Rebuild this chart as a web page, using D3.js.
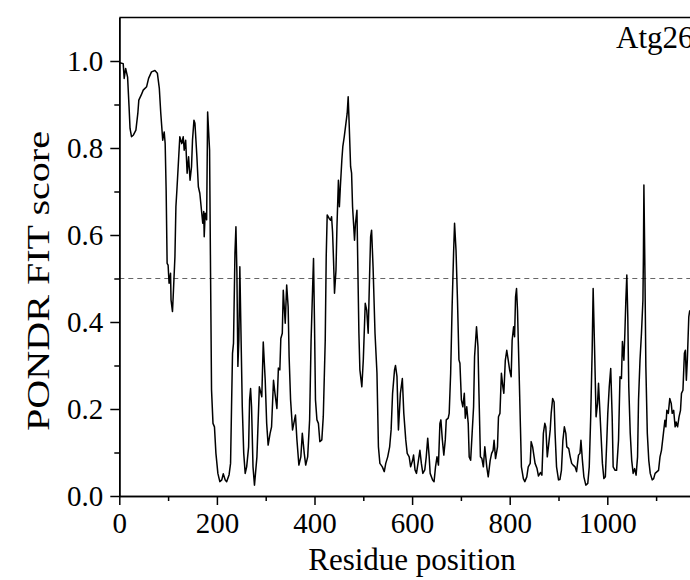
<!DOCTYPE html>
<html>
<head>
<meta charset="utf-8">
<script src="https://cdn.jsdelivr.net/npm/d3@7"></script>
<style>
    html, body { margin: 0; padding: 0; background: #fff; overflow: hidden; }
    svg { display: block; }
</style>
</head>
<body>
<script>

// Residue positions (x)
var residues = [
    1, 8, 10, 13, 17, 20, 22, 25, 29, 34, 38, 40, 45, 49, 56, 60, 66, 73, 78, 82,
    85, 89, 92, 94, 96, 98, 100, 102, 105, 106, 109, 111, 114, 116, 118, 121, 124, 128, 131, 133,
    136, 139, 142, 145, 148, 150, 153, 155, 159, 162, 165, 169, 171, 173, 174, 176, 179, 181, 185, 187,
    189, 192, 195, 198, 202, 206, 210, 213, 217, 220, 225, 228, 230, 232, 234, 237, 239, 241, 243, 245,
    247, 249, 252, 255, 258, 261, 265, 267, 269, 271, 274, 277, 282, 287, 292, 295, 299, 302, 305, 309,
    312, 316, 319, 323, 326, 329, 331, 334, 336, 340, 343, 346, 348, 351, 355, 359, 361, 364, 368, 372,
    375, 379, 382, 386, 390, 393, 396, 398, 400, 402, 405, 408, 411, 415, 418, 422, 424, 426, 430, 433,
    435, 437, 439, 441, 444, 446, 449, 451, 453, 456, 458, 461, 464, 467, 469, 471, 474, 476, 478, 480,
    482, 484, 487, 489, 491, 493, 497, 500, 504, 507, 510, 513, 515, 517, 520, 524, 528, 531, 534, 539,
    543, 546, 550, 554, 557, 560, 564, 566, 569, 572, 576, 580, 583, 587, 590, 594, 597, 601, 603, 606,
    609, 613, 616, 619, 622, 626, 629, 632, 635, 637, 642, 645, 648, 651, 654, 657, 659, 662, 665, 668,
    670, 674, 676, 679, 682, 685, 687, 690, 693, 696, 698, 701, 704, 707, 709, 712, 715, 717, 720, 723,
    726, 728, 732, 735, 737, 740, 743, 746, 749, 753, 756, 760, 763, 766, 768, 771, 775, 777, 780, 783,
    786, 788, 791, 794, 796, 800, 803, 805, 808, 810, 812, 814, 816, 819, 822, 824, 828, 831, 835, 838,
    842, 844, 847, 850, 852, 856, 859, 863, 866, 869, 872, 874, 877, 880, 883, 885, 888, 891, 893, 896,
    900, 903, 906, 909, 912, 915, 917, 921, 924, 927, 930, 934, 937, 941, 944, 946, 949, 952, 956, 960,
    963, 966, 969, 971, 974, 977, 980, 982, 984, 987, 990, 993, 996, 999, 1001, 1004, 1007, 1010, 1012, 1016,
    1019, 1023, 1026, 1029, 1031, 1034, 1036, 1038, 1040, 1042, 1044, 1047, 1050, 1053, 1056, 1059, 1062, 1064, 1067, 1070,
    1073, 1074, 1075, 1077, 1079, 1082, 1085, 1088, 1092, 1095, 1098, 1102, 1105, 1108, 1111, 1115, 1118, 1120, 1122, 1125,
    1128, 1131, 1133, 1136, 1139, 1141, 1144, 1147, 1150, 1152, 1155, 1158, 1160, 1162, 1164, 1167, 1169
];

// PONDR FIT score at each residue above
var scores = [
    0.996, 0.994, 0.960, 0.983, 0.963, 0.895, 0.845, 0.826, 0.830, 0.841, 0.880, 0.910, 0.922, 0.933, 0.941, 0.960, 0.975, 0.978, 0.972, 0.937,
    0.880, 0.818, 0.837, 0.810, 0.703, 0.535, 0.531, 0.489, 0.512, 0.451, 0.424, 0.473, 0.550, 0.665, 0.703, 0.764, 0.826, 0.810, 0.826, 0.795,
    0.818, 0.742, 0.780, 0.726, 0.757, 0.818, 0.864, 0.857, 0.780, 0.711, 0.696, 0.650, 0.627, 0.654, 0.596, 0.650, 0.635, 0.883, 0.795, 0.512,
    0.244, 0.167, 0.159, 0.098, 0.052, 0.033, 0.037, 0.051, 0.037, 0.033, 0.049, 0.075, 0.205, 0.328, 0.351, 0.558, 0.619, 0.512, 0.298, 0.359,
    0.527, 0.397, 0.205, 0.098, 0.052, 0.067, 0.113, 0.221, 0.247, 0.205, 0.067, 0.025, 0.090, 0.251, 0.228, 0.354, 0.266, 0.167, 0.117, 0.144,
    0.159, 0.266, 0.236, 0.201, 0.294, 0.290, 0.362, 0.374, 0.473, 0.397, 0.485, 0.435, 0.320, 0.221, 0.152, 0.175, 0.186, 0.129, 0.071, 0.090,
    0.144, 0.098, 0.071, 0.090, 0.175, 0.358, 0.473, 0.546, 0.397, 0.221, 0.175, 0.167, 0.125, 0.129, 0.183, 0.358, 0.550, 0.646, 0.638, 0.634,
    0.642, 0.607, 0.542, 0.466, 0.519, 0.619, 0.726, 0.665, 0.711, 0.772, 0.803, 0.826, 0.853, 0.880, 0.918, 0.857, 0.757, 0.742, 0.665, 0.627,
    0.588, 0.627, 0.657, 0.512, 0.374, 0.290, 0.251, 0.313, 0.443, 0.427, 0.374, 0.512, 0.596, 0.611, 0.527, 0.374, 0.282, 0.113, 0.075, 0.067,
    0.056, 0.075, 0.090, 0.113, 0.152, 0.236, 0.290, 0.300, 0.275, 0.152, 0.236, 0.270, 0.190, 0.129, 0.098, 0.090, 0.067, 0.082, 0.094, 0.060,
    0.052, 0.082, 0.105, 0.075, 0.052, 0.060, 0.090, 0.133, 0.090, 0.052, 0.037, 0.033, 0.067, 0.090, 0.071, 0.167, 0.175, 0.129, 0.094, 0.129,
    0.175, 0.179, 0.190, 0.282, 0.435, 0.558, 0.627, 0.565, 0.450, 0.313, 0.305, 0.221, 0.205, 0.236, 0.179, 0.205, 0.167, 0.090, 0.082, 0.144,
    0.205, 0.320, 0.389, 0.343, 0.236, 0.090, 0.086, 0.067, 0.113, 0.067, 0.044, 0.082, 0.098, 0.105, 0.128, 0.086, 0.113, 0.182, 0.190, 0.282,
    0.251, 0.236, 0.312, 0.335, 0.320, 0.289, 0.274, 0.358, 0.389, 0.366, 0.458, 0.477, 0.427, 0.297, 0.159, 0.067, 0.040, 0.033, 0.044, 0.067,
    0.075, 0.125, 0.113, 0.090, 0.075, 0.063, 0.046, 0.054, 0.048, 0.144, 0.167, 0.159, 0.090, 0.120, 0.152, 0.190, 0.224, 0.216, 0.144, 0.067,
    0.037, 0.038, 0.059, 0.128, 0.159, 0.144, 0.113, 0.109, 0.090, 0.075, 0.071, 0.067, 0.056, 0.094, 0.098, 0.128, 0.082, 0.044, 0.025, 0.029,
    0.067, 0.182, 0.335, 0.477, 0.335, 0.182, 0.213, 0.259, 0.213, 0.144, 0.075, 0.040, 0.044, 0.128, 0.190, 0.251, 0.293, 0.182, 0.067, 0.059,
    0.059, 0.128, 0.274, 0.270, 0.355, 0.312, 0.374, 0.450, 0.508, 0.412, 0.251, 0.144, 0.082, 0.052, 0.063, 0.048, 0.090, 0.221, 0.312, 0.374,
    0.450, 0.550, 0.715, 0.527, 0.297, 0.144, 0.082, 0.052, 0.037, 0.040, 0.052, 0.056, 0.059, 0.090, 0.105, 0.144, 0.174, 0.159, 0.197, 0.190,
    0.224, 0.213, 0.190, 0.197, 0.159, 0.170, 0.159, 0.182, 0.197, 0.236, 0.243, 0.328, 0.335, 0.266, 0.312, 0.412, 0.427
];

// Tick values (1200 sits just past the window edge, unlabelled)
var xMajorTicks = [0, 200, 400, 600, 800, 1000];
var xMinorTicks = [100, 300, 500, 700, 900, 1100];
var yMajorTicks = [0, 0.2, 0.4, 0.6, 0.8, 1.0];
var yMinorTicks = [0.1, 0.3, 0.5, 0.7, 0.9];

// Disorder threshold
var threshold = 0.5;

var xDomain = [0, 1200],
    yDomain = [0, 1.1];

var width = 690,
    height = 580,
    // plot runs past the right edge of the window, as in the original
    margin = {top: 17.5, left: 119.3},
    plotWidth = 585.6,
    plotHeight = 478.5,
    fontFamily = '"Liberation Serif", "Times New Roman", Times, serif';

var points = residues.map(function(r, i) { return {x: r, y: scores[i]}; });

var svg = d3.select('body')
    .append('svg')
    .attr('width', width)
    .attr('height', height)
    ;

var g = svg.append('g')
    .attr('transform', 'translate(' + margin.left + ',' + margin.top + ')');

var xScale = d3.scaleLinear()
    .domain(xDomain)
    .range([0, plotWidth]);

var yScale = d3.scaleLinear()
    .domain(yDomain)
    .range([plotHeight, 0]);

// Dashed threshold line
g.append('line')
    .attr('x1', xScale(xDomain[0]))
    .attr('x2', xScale(xDomain[1]))
    .attr('y1', yScale(threshold))
    .attr('y2', yScale(threshold))
    .style('stroke', '#666')
    .style('stroke-width', 1.2)
    .style('stroke-dasharray', '5,4')
    ;

// Score trace
var linePath = d3.line()
    .x(function(d) { return xScale(d.x); })
    .y(function(d) { return yScale(d.y); });

g.append('path')
    .datum(points)
    .attr('d', linePath)
    .style('fill', 'none')
    .style('stroke', '#000')
    .style('stroke-width', 1.5)
    .style('stroke-linejoin', 'round')
    ;

// Top frame
g.append('line')
    .attr('x1', 0)
    .attr('x2', plotWidth)
    .attr('y1', 0)
    .attr('y2', 0)
    .style('stroke', '#000')
    .style('stroke-width', 1.5)
    ;

var styleAxis = function(sel) {
    sel.selectAll('path, line')
        .style('stroke', '#000')
        .style('stroke-width', 1.5);
    sel.selectAll('text')
        .style('font-family', fontFamily)
        .style('font-size', '29px')
        .attr('fill', '#000');
};

// Minor ticks first, major axes on top
g.append('g')
    .attr('transform', 'translate(0,' + plotHeight + ')')
    .call(d3.axisBottom(xScale).tickValues(xMinorTicks.concat([1200])).tickSize(5).tickSizeOuter(0).tickFormat(''))
    .call(styleAxis);

g.append('g')
    .call(d3.axisLeft(yScale).tickValues(yMinorTicks).tickSize(5).tickSizeOuter(0).tickFormat(''))
    .call(styleAxis);

g.append('g')
    .attr('transform', 'translate(0,' + plotHeight + ')')
    .call(d3.axisBottom(xScale)
        .tickValues(xMajorTicks)
        .tickSize(9)
        .tickPadding(7)
        .tickSizeOuter(0)
        .tickFormat(d3.format('d')))
    .call(styleAxis);

g.append('g')
    .call(d3.axisLeft(yScale)
        .tickValues(yMajorTicks)
        .tickSize(9)
        .tickPadding(7)
        .tickSizeOuter(0)
        .tickFormat(d3.format('.1f')))
    .call(styleAxis);

// Axis titles
svg.append('text')
    .attr('x', 412)
    .attr('y', 570)
    .style('text-anchor', 'middle')
    .style('font-family', fontFamily)
    .style('font-size', '31px')
    .text('Residue position');

svg.append('text')
    // rotated, so x is minus the vertical centre
    .attr('x', -281)
    .attr('y', 49)
    .attr('transform', 'rotate(-90)')
    .attr('textLength', 300)
    .attr('lengthAdjust', 'spacingAndGlyphs')
    .style('text-anchor', 'middle')
    .style('font-family', fontFamily)
    .style('font-size', '32px')
    .text('PONDR FIT score');

// Protein name, clipped by the window edge like the original
svg.append('text')
    .attr('x', 616)
    .attr('y', 48)
    .style('font-family', fontFamily)
    .style('font-size', '31px')
    .text('Atg26');

</script>
</body>
</html>
